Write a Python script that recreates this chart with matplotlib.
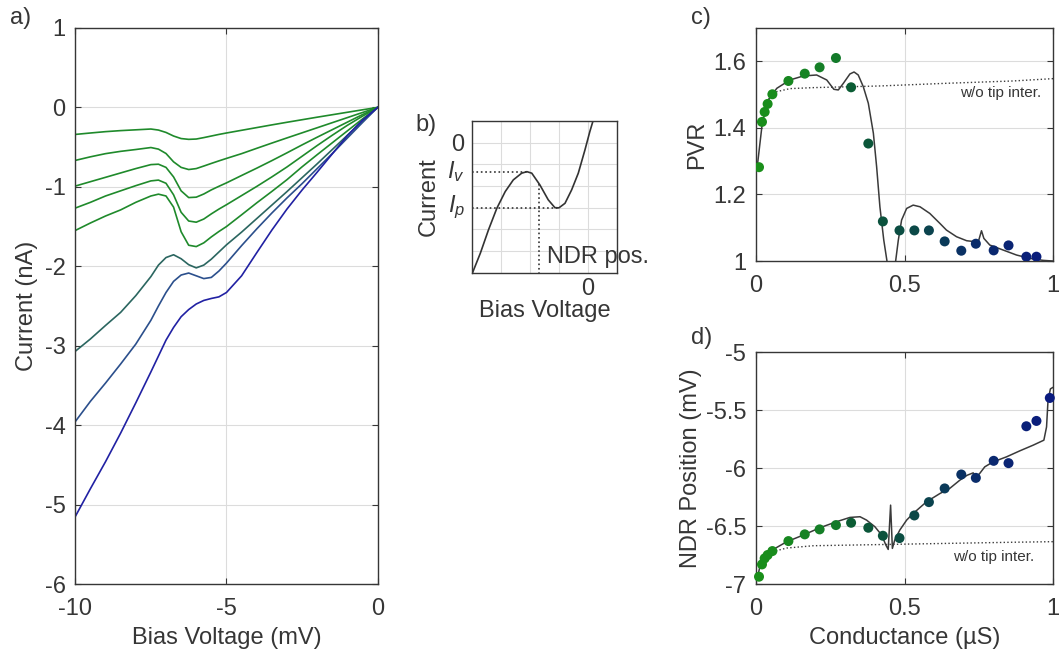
# -*- coding: utf-8 -*-
# I-V curves, NDR sketch, PVR and NDR position vs conductance

import matplotlib
matplotlib.use("Agg")
import matplotlib.pyplot as plt
from matplotlib.colors import LinearSegmentedColormap

plt.rcParams['font.family'] = ['Liberation Sans', 'DejaVu Sans']
plt.rcParams['font.size'] = 17
plt.rcParams['axes.axisbelow'] = True
plt.rcParams['axes.unicode_minus'] = False
plt.rcParams['text.color'] = '#363636'
plt.rcParams['axes.labelcolor'] = '#363636'
plt.rcParams['mathtext.fontset'] = 'custom'
plt.rcParams['mathtext.it'] = 'Liberation Sans:italic'
plt.rcParams['mathtext.rm'] = 'Liberation Sans'

### data ###

# panel a: I-V curves, bias (mV) and current (nA), top curve to bottom curve
a_bias = [-10, -9.5, -9, -8.5, -8, -7.5, -7.25, -7, -6.75, -6.5, -6.25, -6, -5.75,
          -5.5, -5.25, -5, -4.5, -4, -3.5, -3, -2.5, -2, -1.5, -1, -0.5, 0]
a_i1 = [-0.340, -0.322, -0.305, -0.292, -0.282, -0.272, -0.285, -0.315, -0.360, -0.392, -0.402, -0.398, -0.380,
        -0.360, -0.340, -0.322, -0.288, -0.254, -0.220, -0.187, -0.155, -0.123, -0.092, -0.061, -0.030, 0]
a_i2 = [-0.667, -0.622, -0.582, -0.553, -0.530, -0.505, -0.525, -0.580, -0.685, -0.755, -0.782, -0.770, -0.738,
        -0.705, -0.673, -0.642, -0.582, -0.515, -0.449, -0.384, -0.320, -0.256, -0.192, -0.128, -0.064, 0]
a_i3 = [-0.990, -0.935, -0.880, -0.825, -0.770, -0.720, -0.715, -0.755, -0.875, -1.050, -1.135, -1.130, -1.090,
        -1.038, -0.993, -0.950, -0.857, -0.765, -0.670, -0.572, -0.472, -0.375, -0.280, -0.185, -0.090, 0]
a_i4 = [-1.267, -1.195, -1.115, -1.050, -0.985, -0.925, -0.915, -0.955, -1.100, -1.320, -1.430, -1.445, -1.405,
        -1.340, -1.280, -1.225, -1.110, -0.995, -0.875, -0.750, -0.615, -0.480, -0.350, -0.225, -0.110, 0]
a_i5 = [-1.549, -1.455, -1.367, -1.290, -1.195, -1.115, -1.092, -1.115, -1.255, -1.565, -1.735, -1.752, -1.705,
        -1.630, -1.562, -1.500, -1.352, -1.202, -1.058, -0.910, -0.748, -0.595, -0.445, -0.295, -0.145, 0]
a_i6 = [-3.070, -2.915, -2.745, -2.580, -2.370, -2.130, -1.985, -1.890, -1.855, -1.905, -1.980, -2.020, -1.985,
        -1.910, -1.820, -1.730, -1.570, -1.400, -1.230, -1.060, -0.885, -0.710, -0.530, -0.350, -0.170, 0]
a_i7 = [-3.955, -3.700, -3.470, -3.230, -2.980, -2.680, -2.500, -2.330, -2.190, -2.110, -2.085, -2.120, -2.155,
        -2.140, -2.060, -1.960, -1.740, -1.530, -1.330, -1.140, -0.960, -0.770, -0.580, -0.385, -0.190, 0]
a_i8 = [-5.150, -4.800, -4.460, -4.100, -3.720, -3.330, -3.130, -2.930, -2.770, -2.635, -2.545, -2.475, -2.430,
        -2.405, -2.385, -2.330, -2.120, -1.830, -1.545, -1.280, -1.040, -0.815, -0.585, -0.355, -0.160, 0]
a_currents = [a_i1, a_i2, a_i3, a_i4, a_i5, a_i6, a_i7, a_i8]

# panel b: schematic NDR curve (arb. units)
b_v = [-3.99, -3.72, -3.44, -3.15, -2.86, -2.58, -2.29, -2.11, -1.94, -1.66, -1.37, -1.14, -1.0,
       -0.79, -0.56, -0.33, -0.10, 0.07, 0.18]
b_i = [-6.0, -5.10, -4.03, -3.03, -2.26, -1.72, -1.41, -1.34, -1.41, -1.95, -2.64, -3.0, -3.01,
       -2.80, -2.18, -1.41, -0.34, 0.51, 1.0]
b_ipeak = -1.34
b_vpeak = -2.11
b_ivalley = -3.0
b_vvalley = -1.0
b_vndr = -1.68
b_indr = -1.90

# panels c, d: measured points vs conductance (uS)
g_meas = [0.010, 0.020, 0.029, 0.039, 0.055, 0.109, 0.164, 0.214, 0.269, 0.320, 0.378, 0.427,
          0.483, 0.533, 0.582, 0.635, 0.691, 0.740, 0.800, 0.850, 0.910, 0.944, 0.989]
pvr_meas = [1.282, 1.418, 1.448, 1.472, 1.501, 1.541, 1.563, 1.582, 1.610, 1.522, 1.353, 1.119,
            1.092, 1.092, 1.092, 1.059, 1.031, 1.052, 1.032, 1.047, 1.013, 1.013, 0.98]
ndr_meas = [-6.937, -6.831, -6.779, -6.750, -6.716, -6.630, -6.572, -6.529, -6.492, -6.472, -6.515, -6.584,
            -6.604, -6.409, -6.294, -6.176, -6.056, -6.085, -5.938, -5.958, -5.640, -5.594, -5.396]

# panel c: model with tip interaction
c_g = [0.004, 0.021, 0.041, 0.070, 0.114, 0.159, 0.204, 0.238, 0.262, 0.277, 0.294, 0.316, 0.330,
       0.344, 0.361, 0.378, 0.395, 0.406, 0.417, 0.430, 0.442, 0.450, 0.462, 0.469, 0.479, 0.490,
       0.507, 0.529, 0.552, 0.585, 0.619, 0.641, 0.675, 0.709, 0.748, 0.759, 0.767, 0.787, 0.832,
       0.877, 0.922, 0.966, 1.0]
c_pvr = [1.283, 1.414, 1.484, 1.519, 1.544, 1.556, 1.559, 1.544, 1.516, 1.514, 1.534, 1.562, 1.568,
         1.559, 1.524, 1.474, 1.384, 1.283, 1.163, 1.063, 0.993, 0.90, 0.90, 0.993, 1.063, 1.123,
         1.158, 1.168, 1.163, 1.143, 1.113, 1.093, 1.073, 1.061, 1.057, 1.091, 1.068, 1.048, 1.033,
         1.018, 1.008, 1.002, 1.0]
# panel c: model without tip interaction
c_g0 = [0.025, 0.041, 0.070, 0.114, 0.193, 0.417, 0.641, 0.865, 1.0]
c_pvr0 = [1.443, 1.484, 1.509, 1.518, 1.521, 1.526, 1.534, 1.541, 1.548]

# panel d: model with tip interaction
d_g = [0.004, 0.013, 0.030, 0.058, 0.103, 0.159, 0.215, 0.271, 0.316, 0.350, 0.372, 0.400, 0.423,
       0.437, 0.445, 0.453, 0.459, 0.467, 0.484, 0.507, 0.529, 0.574, 0.619, 0.652, 0.686, 0.711,
       0.731, 0.742, 0.753, 0.770, 0.798, 0.843, 0.888, 0.933, 0.969, 0.978, 0.983, 0.991, 0.998]
d_ndr = [-6.951, -6.851, -6.765, -6.702, -6.636, -6.578, -6.515, -6.463, -6.426, -6.420, -6.449, -6.506,
         -6.578, -6.664, -6.702, -6.320, -6.693, -6.621, -6.535, -6.449, -6.392, -6.291, -6.220, -6.176,
         -6.105, -6.062, -6.042, -6.076, -6.047, -5.990, -5.947, -5.904, -5.852, -5.803, -5.760, -5.646,
         -5.416, -5.318, -5.307]
# panel d: model without tip interaction
d_g0 = [0.025, 0.058, 0.103, 0.193, 0.417, 0.641, 0.865, 1.0]
d_ndr0 = [-6.78, -6.72, -6.69, -6.67, -6.66, -6.65, -6.64, -6.635]

### style ###
axcol = '#363636'
curve_cols = ['#1f8a2b', '#1f8a2b', '#1f8a2b', '#1f8a2b', '#1f8a2b', '#2b6660', '#2b4f8c', '#2121a3']
pt_cmap = LinearSegmentedColormap.from_list(
    'gn2bl', [(0.0, '#1a901a'), (0.27, '#137a2a'), (0.32, '#0b5a34'), (0.55, '#0b4848'),
              (0.70, '#0a2f66'), (1.0, '#0a1a80')])


def style_axes(ax):
    ax.tick_params(direction='in', top=True, right=True, length=4.5, width=0.8,
                   colors=axcol, labelcolor=axcol, labelsize=17)
    ax.tick_params(axis='x', pad=10)
    ax.tick_params(axis='y', pad=7)
    for s in ax.spines.values():
        s.set_color(axcol)
        s.set_linewidth(1.0)
    ax.grid(True, color='#dcdcdc', linewidth=0.8)


fig = plt.figure(figsize=(10.62, 6.57), dpi=100)

### a ###
ax_a = fig.add_axes([0.0709, 0.1111, 0.2847, 0.8463])
for i, c in zip(a_currents, curve_cols):
    ax_a.plot(a_bias, i, color=c, linewidth=1.2)
ax_a.set_xlim(-10, 0)
ax_a.set_ylim(-6, 1)
ax_a.set_xticks([-10, -5, 0])
ax_a.set_yticks(range(-6, 2))
ax_a.set_xlabel('Bias Voltage (mV)', labelpad=5)
ax_a.set_ylabel('Current (nA)', labelpad=5)
style_axes(ax_a)
fig.text(0.009, 0.972, 'a)', fontsize=17, va='center')

### b ###
ax_b = fig.add_axes([0.4447, 0.585, 0.136, 0.2309])
ax_b.plot(b_v, b_i, color='#333333', linewidth=1.2)
ax_b.plot([-4, b_vpeak], [b_ipeak, b_ipeak], ':', color='#333333', linewidth=1.2)
ax_b.plot([-4, b_vvalley], [b_ivalley, b_ivalley], ':', color='#333333', linewidth=1.2)
ax_b.plot([b_vndr, b_vndr], [b_indr, -6], ':', color='#333333', linewidth=1.2)
ax_b.set_xlim(-4, 1)
ax_b.set_ylim(-6, 1)
ax_b.set_xticks(range(-4, 2))
ax_b.set_xticklabels(['', '', '', '', '0', ''])
ax_b.set_yticks(range(-6, 2))
ax_b.set_yticklabels(['', '', '', '', '', '', '0', ''])
style_axes(ax_b)
ax_b.tick_params(length=0)
ax_b.tick_params(axis='x', pad=4)
ax_b.tick_params(axis='y', pad=6)
ax_b.set_xlabel('Bias Voltage', labelpad=0)
ax_b.set_ylabel('Current', labelpad=8)
ax_b.text(-4.25, b_ipeak, '$I_v$', ha='right', va='center', fontsize=17)
ax_b.text(-4.25, b_ivalley, '$I_p$', ha='right', va='center', fontsize=17)
ax_b.text(b_vndr + 0.28, -5.3, 'NDR pos.', ha='left', va='center', fontsize=17)
fig.text(0.391, 0.81, 'b)', fontsize=17, va='center')

### c ###
ax_c = fig.add_axes([0.7119, 0.6027, 0.2797, 0.3546])
ax_c.plot(c_g, c_pvr, color='#3a3a3a', linewidth=1.1)
ax_c.plot(c_g0, c_pvr0, ':', color='#3a3a3a', linewidth=1.0)
ax_c.scatter(g_meas, pvr_meas, s=52, c=g_meas, cmap=pt_cmap, vmin=0, vmax=1,
             edgecolors='none', zorder=3, clip_on=True)
ax_c.set_xlim(0, 1)
ax_c.set_ylim(1, 1.7)
ax_c.set_xticks([0, 0.5, 1])
ax_c.set_xticklabels(['0', '0.5', '1'])
ax_c.set_yticks([1, 1.2, 1.4, 1.6])
ax_c.set_yticklabels(['1', '1.2', '1.4', '1.6'])
ax_c.set_ylabel('PVR', labelpad=4)
style_axes(ax_c)
ax_c.text(0.96, 1.505, 'w/o tip inter.', ha='right', va='center', fontsize=11)
fig.text(0.651, 0.972, 'c)', fontsize=17, va='center')

### d ###
ax_d = fig.add_axes([0.7119, 0.1111, 0.2797, 0.3531])
ax_d.plot(d_g, d_ndr, color='#3a3a3a', linewidth=1.1)
ax_d.plot(d_g0, d_ndr0, ':', color='#3a3a3a', linewidth=1.0)
ax_d.scatter(g_meas, ndr_meas, s=52, c=g_meas, cmap=pt_cmap, vmin=0, vmax=1,
             edgecolors='none', zorder=3, clip_on=False)
ax_d.set_xlim(0, 1)
ax_d.set_ylim(-7, -5)
ax_d.set_xticks([0, 0.5, 1])
ax_d.set_xticklabels(['0', '0.5', '1'])
ax_d.set_yticks([-7, -6.5, -6, -5.5, -5])
ax_d.set_yticklabels(['-7', '-6.5', '-6', '-5.5', '-5'])
ax_d.set_xlabel('Conductance (µS)', labelpad=5)
ax_d.set_ylabel('NDR Position (mV)', labelpad=3)
style_axes(ax_d)
ax_d.text(0.935, -6.765, 'w/o tip inter.', ha='right', va='center', fontsize=11)
fig.text(0.651, 0.485, 'd)', fontsize=17, va='center')

plt.savefig('out.png', dpi=100)
